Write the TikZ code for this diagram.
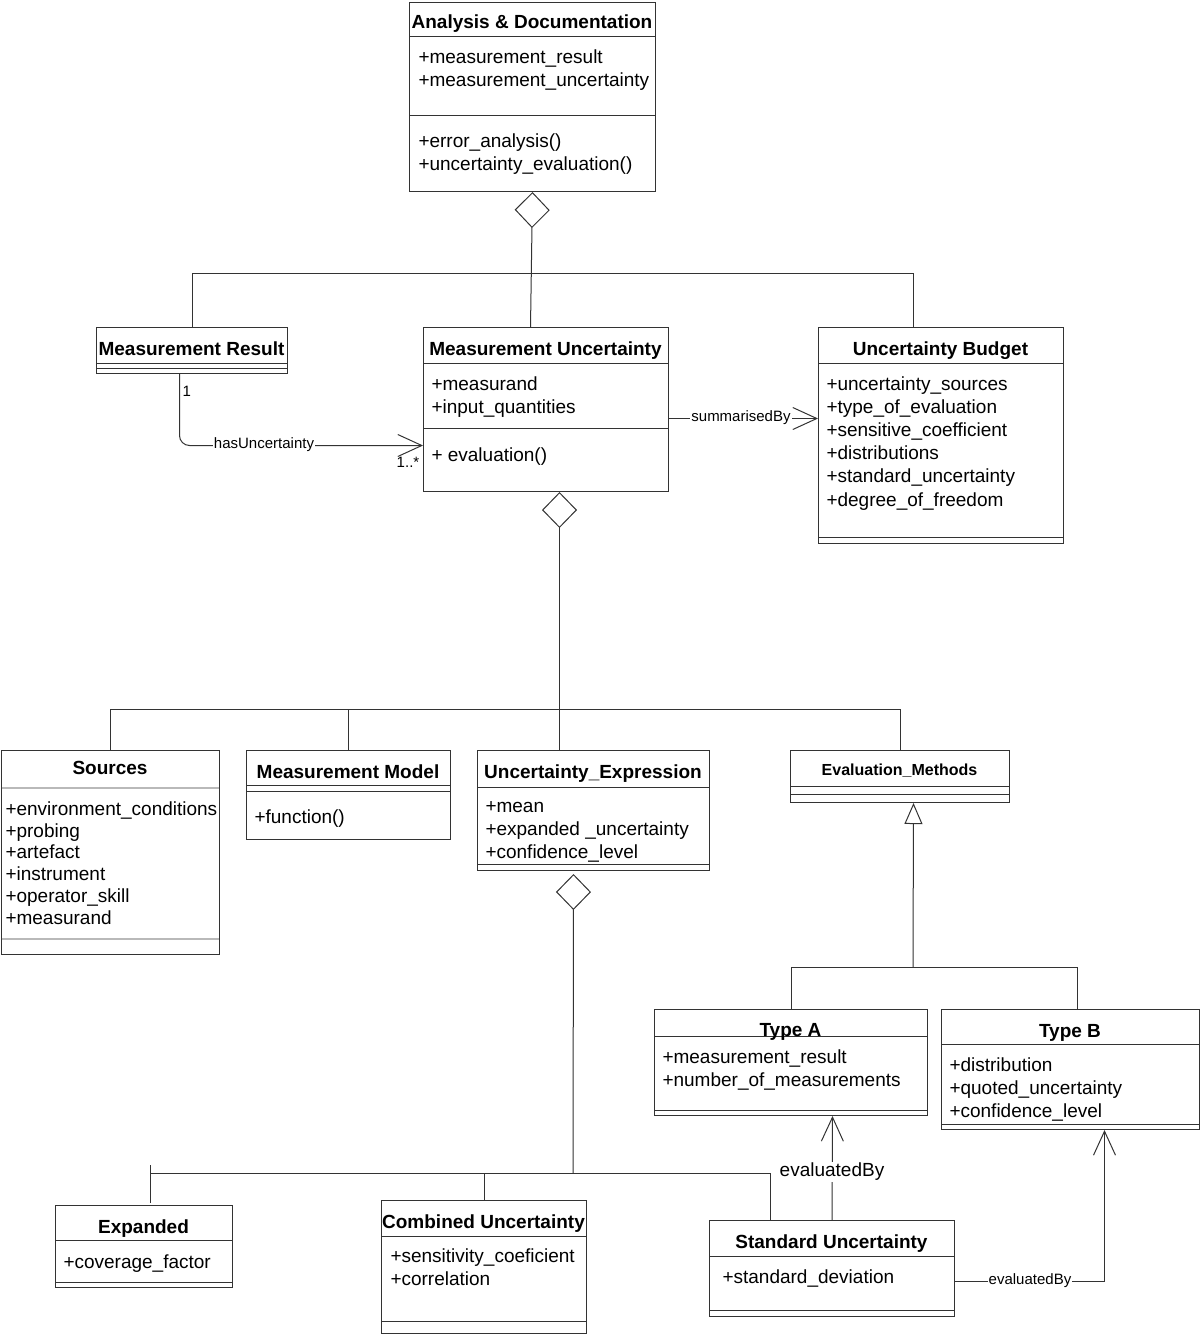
\documentclass[tikz,border=0pt]{standalone}
\usepackage{fontspec}
\setmainfont{Liberation Sans}
\usetikzlibrary{arrows.meta}
\definecolor{ln}{HTML}{333333}
\begin{document}
\begin{tikzpicture}[x=1pt,y=-1pt, line width=1pt, color=ln,
  cls/.style={draw=ln, inner sep=0pt, anchor=north west, line width=1pt},
  ttl/.style={font=\fontsize{19}{23}\selectfont\bfseries, text=black, inner sep=0pt, anchor=base},
  attr/.style={font=\fontsize{19}{23}\selectfont, text=black, inner sep=0pt, anchor=base west},
  lbl/.style={font=\fontsize{15}{18}\selectfont, text=black, fill=white, inner sep=1pt},
  biglbl/.style={font=\fontsize{19}{23}\selectfont, text=black, fill=white, inner sep=1.5pt},
  mult/.style={font=\fontsize{15}{18}\selectfont, text=black, inner sep=0pt},
  aggr/.style={-{Diamond[open,length=36pt,width=35pt]}},
  gen/.style={-{Triangle[open,length=21pt,width=18pt]}},
  assoc/.style={-{Straight Barb[length=24pt,width=22pt]}},
  greysep/.style={draw=gray!55, line width=1.6pt}]
\useasboundingbox (0,0) rectangle (1200,1334);

% ---------- Analysis & Documentation
\node[cls, minimum width=246pt, minimum height=189pt] (ad) at (409,2) {};
\draw (409,36) -- (655,36);
\draw (409,115) -- (655,115);
\node[ttl] (adt) at (532,28) {Analysis \& Documentation};
\node[attr] (ad1) at (418,63) {+measurement\_result};
\node[attr] (ad2) at (418,86) {+measurement\_uncertainty};
\node[attr] (ad3) at (418,147) {+error\_analysis()};
\node[attr] (ad4) at (418,170) {+uncertainty\_evaluation()};

% ---------- Measurement Result
\node[cls, minimum width=191pt, minimum height=46pt] (mr) at (96,327) {};
\draw (96,363) -- (287,363);
\draw (96,368) -- (287,368);
\node[ttl] (mrt) at (191.5,355) {Measurement Result};

% ---------- Measurement Uncertainty
\node[cls, minimum width=245pt, minimum height=164pt] (mu) at (423,327) {};
\draw (423,363) -- (668,363);
\draw (423,428) -- (668,428);
\node[ttl] (mut) at (545.5,355) {Measurement Uncertainty};
\node[attr] (mu1) at (431,390) {+measurand};
\node[attr] (mu2) at (431,413) {+input\_quantities};
\node[attr] (mu3) at (431,461) {+ evaluation()};

% ---------- Uncertainty Budget
\node[cls, minimum width=245pt, minimum height=216pt] (ub) at (818,327) {};
\draw (818,363) -- (1063,363);
\draw (818,537) -- (1063,537);
\node[ttl] (ubt) at (940.5,355) {Uncertainty Budget};
\node[attr] (ub1) at (826,390) {+uncertainty\_sources};
\node[attr] (ub2) at (826,413) {+type\_of\_evaluation};
\node[attr] (ub3) at (826,436) {+sensitive\_coefficient};
\node[attr] (ub4) at (826,459) {+distributions};
\node[attr] (ub5) at (826,482) {+standard\_uncertainty};
\node[attr] (ub6) at (826,506) {+degree\_of\_freedom};

% ---------- Sources
\node[cls, minimum width=218pt, minimum height=204pt] (src) at (1,750) {};
\draw[greysep] (1.5,788) -- (218.5,788);
\draw[greysep] (1.5,939) -- (218.5,939);
\node[ttl] (srct) at (110,774) {Sources};
\node[attr] (src1) at (5,815) {+environment\_conditions};
\node[attr] (src2) at (5,837) {+probing};
\node[attr] (src3) at (5,858) {+artefact};
\node[attr] (src4) at (5,880) {+instrument};
\node[attr] (src5) at (5,902) {+operator\_skill};
\node[attr] (src6) at (5,924) {+measurand};

% ---------- Measurement Model
\node[cls, minimum width=204pt, minimum height=89pt] (mm) at (246,750) {};
\draw (246,785) -- (450,785);
\draw (246,791) -- (450,791);
\node[ttl] (mmt) at (348,778) {Measurement Model};
\node[attr] (mm1) at (254,823) {+function()};

% ---------- Uncertainty_Expression
\node[cls, minimum width=232pt, minimum height=120pt] (ue) at (477,750) {};
\draw (477,787) -- (709,787);
\draw (477,864) -- (709,864);
\node[ttl] (uet) at (593,778) {Uncertainty\_Expression};
\node[attr] (ue1) at (485,812) {+mean};
\node[attr] (ue2) at (485,835) {+expanded \_uncertainty};
\node[attr] (ue3) at (485,858) {+confidence\_level};

% ---------- Evaluation_Methods
\node[cls, minimum width=219pt, minimum height=52pt] (em) at (790,750) {};
\draw (790,786) -- (1009,786);
\draw (790,794) -- (1009,794);
\node[ttl, font=\fontsize{16}{19}\selectfont\bfseries] (emt) at (899.5,775) {Evaluation\_Methods};

% ---------- Type A
\node[cls, minimum width=273pt, minimum height=106pt] (ta) at (654,1009) {};
\draw (654,1036) -- (927,1036);
\draw (654,1110) -- (927,1110);
\node[ttl] (tat) at (790.5,1036) {Type A};
\node[attr] (ta1) at (662,1063) {+measurement\_result};
\node[attr] (ta2) at (662,1086) {+number\_of\_measurements};

% ---------- Type B
\node[cls, minimum width=258pt, minimum height=120pt] (tb) at (941,1009) {};
\draw (941,1044) -- (1199,1044);
\draw (941,1124) -- (1199,1124);
\node[ttl] (tbt) at (1070,1037) {Type B};
\node[attr] (tb1) at (949,1071) {+distribution};
\node[attr] (tb2) at (949,1094) {+quoted\_uncertainty};
\node[attr] (tb3) at (949,1117) {+confidence\_level};

% ---------- Expanded
\node[cls, minimum width=177pt, minimum height=82pt] (ex) at (55,1205) {};
\draw (55,1240) -- (232,1240);
\draw (55,1282) -- (232,1282);
\node[ttl] (ext) at (143.5,1233) {Expanded};
\node[attr] (ex1) at (63,1268) {+coverage\_factor};

% ---------- Combined Uncertainty
\node[cls, minimum width=205pt, minimum height=133pt] (cu) at (381,1200) {};
\draw (381,1236) -- (586,1236);
\draw (381,1321) -- (586,1321);
\node[ttl] (cut) at (483.5,1228) {Combined Uncertainty};
\node[attr] (cu1) at (390,1262) {+sensitivity\_coeficient};
\node[attr] (cu2) at (390,1285) {+correlation};

% ---------- Standard Uncertainty
\node[cls, minimum width=245pt, minimum height=96pt] (su) at (709,1220) {};
\draw (709,1256) -- (954,1256);
\draw (709,1310) -- (954,1310);
\node[ttl] (sut) at (831.5,1248) {Standard Uncertainty};
\node[attr] (su1) at (722,1283) {+standard\_deviation};

% ================= connectors
% aggregation: Analysis & Documentation
\draw[aggr] ([xshift=-15.5pt]mu.north) -- (ad.south);
\draw (mr.north) -- ++(0,-54) -| ([xshift=-27.5pt]ub.north);

% hasUncertainty
\draw[assoc, rounded corners=10pt] ([xshift=-12.5pt]mr.south) |- ([yshift=-36pt]mu.west);
\node[lbl] (lhas) at (264,445) {hasUncertainty};
\node[mult, anchor=west] (m1) at (182,391) {1};
\node[mult] (m2) at (408,462) {1..*};

% summarisedBy
\draw[assoc] ([yshift=-9pt]mu.east) -- ([yshift=17pt]ub.west);
\node[lbl] (lsum) at (741,418) {summarisedBy};

% aggregation: Measurement Uncertainty
\draw[aggr] ([xshift=-34pt]ue.north) -- ([xshift=13.5pt]mu.south);
\draw (src.north) -- ++(0,-41) -| (em.north);
\draw (mm.north) -- ++(0,-41);

% aggregation: Uncertainty_Expression
\coordinate (jb) at (573,1173);
\coordinate (jbl) at (150,1173);
\draw[aggr] (jb) -- ([xshift=-20pt,yshift=-3pt]ue.south);
\draw ([xshift=-61.5pt]su.north) |- (jbl);
\draw ([xshift=6.5pt,yshift=2pt]ex.north) -- ++(0,-38);
\draw (cu.north) -- ++(0,-27);

% generalization
\coordinate (jg) at (913,967);
\draw[gen] (jg) -- ([xshift=13.5pt]em.south);
\draw (ta.north) -- ++(0,-42) -| ([xshift=7pt]tb.north);

% evaluatedBy
\draw[assoc] (su.north) -- ([xshift=41.5pt]ta.south);
\node[biglbl] (lev1) at (832,1172) {evaluatedBy};
\draw[assoc] ([yshift=-13pt]su.east) -| ([xshift=34pt]tb.south);
\node[lbl] (lev2) at (1030,1281) {evaluatedBy};
\end{tikzpicture}
\end{document}
